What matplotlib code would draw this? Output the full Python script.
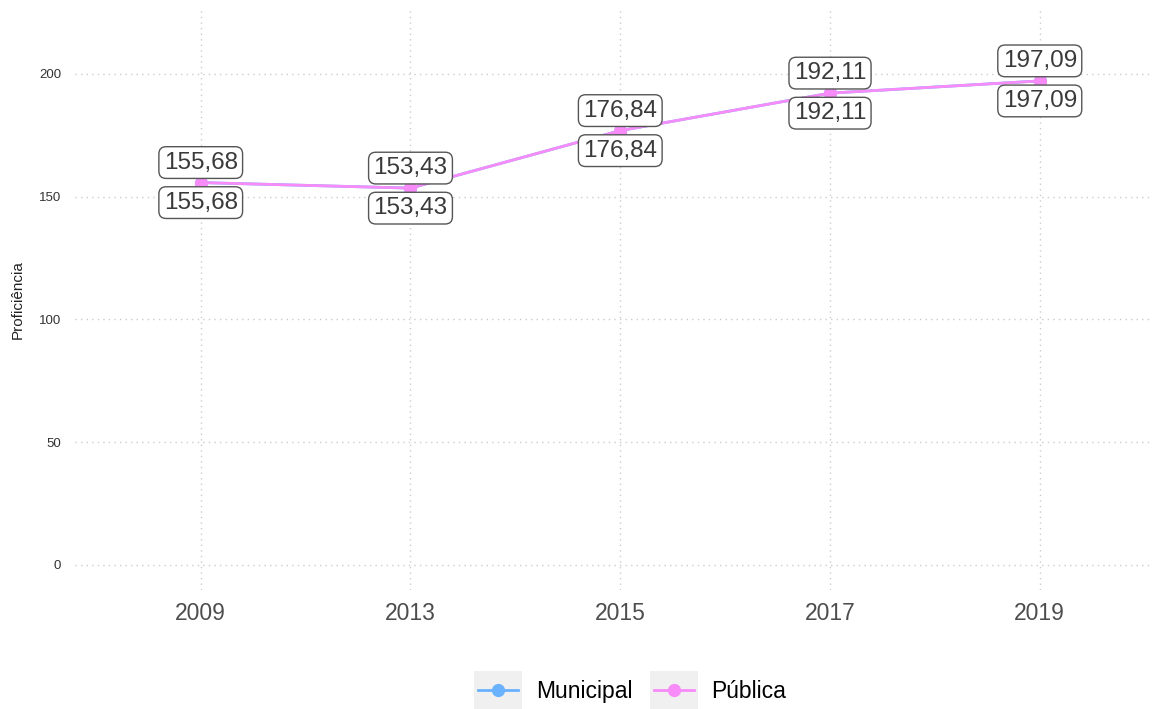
import numpy as np
import matplotlib
matplotlib.use('Agg')
import matplotlib.pyplot as plt
from matplotlib.legend_handler import HandlerBase
from matplotlib.patches import Rectangle
from matplotlib.lines import Line2D

plt.rcParams['font.family'] = ['Liberation Sans', 'DejaVu Sans']

anos = ['2009', '2013', '2015', '2017', '2019']
municipal = [155.68, 153.43, 176.84, 192.11, 197.09]
publica = [155.68, 153.43, 176.84, 192.11, 197.09]
series = ['Municipal', 'Pública']
cores = ['#6AB2FF', '#F78CF9']

fig = plt.figure(figsize=(11.52, 7.09), dpi=100)
ax = fig.add_axes([0.065, 0.168, 0.935, 0.818])

x = np.arange(len(anos))
for vals, cor, nome, dy, va in [(municipal, cores[0], series[0], 6.5, 'bottom'),
                                (publica, cores[1], series[1], -6.5, 'top')]:
    ax.plot(x, vals, color=cor, lw=2.0, marker='o', ms=8.5, label=nome, zorder=3)
    for xi, v in zip(x, vals):
        txt = '{:.2f}'.format(v).replace('.', ',')
        ax.annotate(txt, (xi, v), xytext=(0, dy), textcoords='offset points',
                    ha='center', va=va, fontsize=17.5, color='#3a3a3a', zorder=5,
                    bbox=dict(boxstyle='round,pad=0.2,rounding_size=0.3',
                              fc='white', ec='#555555', lw=1.0))

ax.set_xlim(-0.6, 4.535)
ax.set_ylim(-10.2, 226)
ax.set_xticks(x)
ax.set_xticklabels(anos, fontsize=16.5, color='#4d4d4d')
ax.set_yticks([0, 50, 100, 150, 200])
ax.tick_params(axis='y', labelsize=9.5, labelcolor='#333333', length=0, pad=10)
ax.tick_params(axis='x', length=0, pad=9)
ax.grid(True, color='#cccccc', ls=(0, (1, 3)), lw=1.0)
ax.set_axisbelow(True)
for s in ax.spines.values():
    s.set_visible(False)
ax.set_ylabel('Proficiência', fontsize=11, color='#222222', labelpad=10)


class KeyHandler(HandlerBase):
    def __init__(self, cor):
        super().__init__()
        self.cor = cor

    def create_artists(self, legend, orig_handle, xdescent, ydescent, width,
                       height, fontsize, trans):
        cy = height / 2 - ydescent
        rect = Rectangle((-xdescent, cy - 14), width, 28, fc='#f0f0f0',
                         ec='none', transform=trans)
        line = Line2D([-xdescent + 3, -xdescent + width - 3], [cy, cy],
                      color=self.cor, lw=2.0, transform=trans)
        mk = Line2D([-xdescent + width / 2], [cy], marker='o', ms=8.5,
                    color=self.cor, transform=trans)
        return [rect, line, mk]


handles = [Line2D([], [], color=c) for c in cores]
fig.legend(handles, series, loc='center', bbox_to_anchor=(0.547, 0.024),
           ncol=2, frameon=False, fontsize=16.5, handlelength=2.1,
           columnspacing=0.75, handletextpad=0.6,
           handler_map={handles[0]: KeyHandler(cores[0]),
                        handles[1]: KeyHandler(cores[1])})

fig.savefig('out.png', dpi=100)
